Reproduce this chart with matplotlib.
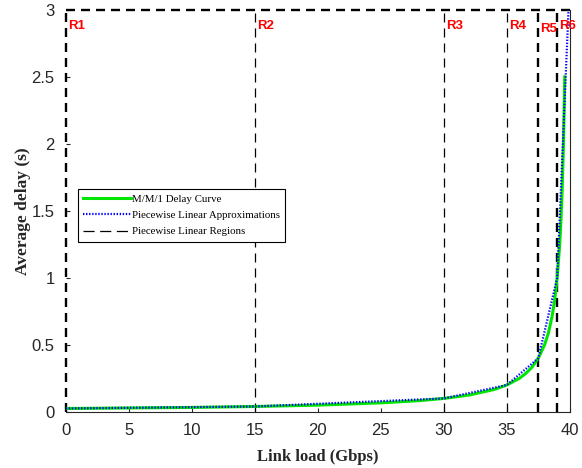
import matplotlib
matplotlib.use("Agg")
import matplotlib.pyplot as plt

# M/M/1 delay curve
load_gbps = [0, 5, 10, 15, 20, 25, 28, 30, 32, 34, 35, 36, 36.5, 37, 37.5,
             38, 38.3, 38.6, 38.8, 39, 39.2, 39.3, 39.4, 39.5, 39.6]
delay_s = [0.025, 0.029, 0.033, 0.04, 0.05, 0.067, 0.083, 0.1, 0.125, 0.167,
           0.2, 0.25, 0.286, 0.333, 0.4, 0.5, 0.588, 0.714, 0.833, 1.0,
           1.25, 1.43, 1.67, 2.0, 2.5]

# piecewise linear approximation breakpoints
pw_load = [0, 15, 30, 35, 37.5, 39, 39.9]
pw_delay = [0.025, 0.04, 0.1, 0.2, 0.4, 1.0, 3.0]

# region boundaries and labels
region_edges = [0, 15, 30, 35, 37.5, 39, 40]
region_labels = ["R1", "R2", "R3", "R4", "R5", "R6"]

plt.rcParams["lines.scale_dashes"] = False

fig = plt.figure(figsize=(5.82, 4.68), dpi=100)
ax = fig.add_axes([0.113, 0.12, 0.866, 0.859])

ax.plot(load_gbps, delay_s, color="#00e600", linewidth=2.2, label="M/M/1 Delay Curve", zorder=3)
ax.plot(pw_load, pw_delay, color="#0000ff", linewidth=1.6, linestyle=(0, (1, 1.2)),
        label="Piecewise Linear Approximations", zorder=4)

dash = (0, (6.5, 4.3))
thick = {0, 37.5, 39}
for e in region_edges[:-1]:
    lw = 1.7 if e in thick else 0.9
    ax.plot([e, e], [0, 3], color="black", linewidth=lw, linestyle=dash, zorder=2,
            clip_on=False, label="Piecewise Linear Regions" if e == 15 else None)
ax.plot([0, 40], [3, 3], color="black", linewidth=1.7, linestyle=dash, zorder=2, clip_on=False)

for i, lab in enumerate(region_labels):
    y = 2.88 if lab != "R5" else 2.86
    ax.text(region_edges[i] + 0.15, y, lab, color="red", fontsize=9.5,
            fontweight="bold", family="Liberation Sans", va="center", ha="left", zorder=5)

ax.set_xlim(0, 40)
ax.set_ylim(0, 3)
ax.set_xticks([0, 5, 10, 15, 20, 25, 30, 35, 40])
ax.set_yticks([0, 0.5, 1, 1.5, 2, 2.5, 3])
ax.set_yticklabels(["0", "0.5", "1", "1.5", "2", "2.5", "3"])
ax.tick_params(direction="in", length=3, labelsize=12, colors="#262626",
               labelcolor="#262626", top=False, right=False)
ax.tick_params(axis="x", pad=8)
ax.tick_params(axis="y", pad=8)
for lbl in ax.get_xticklabels() + ax.get_yticklabels():
    lbl.set_family("Liberation Sans")
ax.spines["top"].set_visible(False)
ax.spines["left"].set_visible(False)
for s in ("bottom", "right"):
    ax.spines[s].set_linewidth(0.8)
    ax.spines[s].set_color("#262626")

ax.set_xlabel("Link load (Gbps)", family="Liberation Serif", fontweight="bold",
              fontsize=12, color="#262626", labelpad=8)
ax.set_ylabel("Average delay (s)", family="Liberation Serif", fontweight="bold",
              fontsize=12.5, color="#262626")
ax.yaxis.set_label_coords(-0.069, 0.5)

leg = ax.legend(loc="upper left", bbox_to_anchor=(0.024, 0.555), fancybox=False,
                framealpha=1, edgecolor="black", handlelength=4.4, handletextpad=0.1,
                borderpad=0.5, labelspacing=0.62, borderaxespad=0,
                prop={"family": "Liberation Serif", "size": 7.8})
leg.get_frame().set_linewidth(0.8)
for h in leg.get_lines():
    if h.get_label() == "Piecewise Linear Regions":
        h.set_linestyle((0, (8, 4)))

fig.savefig("out.png", dpi=100)
